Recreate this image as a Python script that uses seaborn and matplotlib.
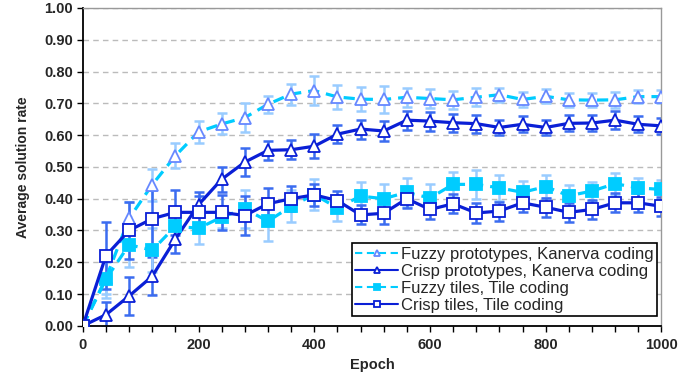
import numpy as np
import pandas as pd
import matplotlib
matplotlib.use("Agg")
import matplotlib.pyplot as plt
import seaborn as sns

epochs = list(range(0, 1001, 40))

fuzzy_proto = [0.0, 0.15, 0.338, 0.444, 0.535, 0.61, 0.635, 0.655, 0.697, 0.729, 0.740,
               0.72, 0.713, 0.712, 0.719, 0.715, 0.711, 0.719, 0.727, 0.712, 0.722,
               0.711, 0.71, 0.711, 0.721, 0.721]
fuzzy_proto_err = [0.0, 0.05, 0.05, 0.05, 0.04, 0.035, 0.033, 0.046, 0.026, 0.033, 0.045,
                   0.037, 0.037, 0.042, 0.03, 0.03, 0.028, 0.028, 0.022, 0.025, 0.022,
                   0.022, 0.022, 0.025, 0.02, 0.02]

crisp_proto = [0.0, 0.035, 0.094, 0.156, 0.273, 0.381, 0.461, 0.515, 0.552, 0.554, 0.565,
               0.603, 0.619, 0.613, 0.647, 0.644, 0.639, 0.636, 0.624, 0.634, 0.624,
               0.637, 0.638, 0.647, 0.634, 0.629]
crisp_proto_err = [0.0, 0.04, 0.06, 0.06, 0.045, 0.04, 0.04, 0.045, 0.03, 0.03, 0.037,
                   0.029, 0.03, 0.032, 0.03, 0.03, 0.028, 0.028, 0.025, 0.025, 0.025,
                   0.025, 0.025, 0.028, 0.025, 0.025]

fuzzy_tiles = [0.0, 0.147, 0.255, 0.238, 0.313, 0.307, 0.342, 0.368, 0.329, 0.376, 0.413,
               0.371, 0.408, 0.40, 0.42, 0.402, 0.445, 0.445, 0.434, 0.42, 0.438,
               0.409, 0.424, 0.447, 0.434, 0.429]
fuzzy_tiles_err = [0.0, 0.06, 0.07, 0.07, 0.05, 0.05, 0.035, 0.06, 0.062, 0.05, 0.05,
                   0.04, 0.045, 0.045, 0.045, 0.045, 0.04, 0.045, 0.04, 0.035, 0.035,
                   0.035, 0.03, 0.035, 0.03, 0.03]

crisp_tiles = [0.0, 0.221, 0.30, 0.337, 0.357, 0.357, 0.357, 0.347, 0.384, 0.40, 0.412,
               0.394, 0.349, 0.354, 0.40, 0.366, 0.384, 0.355, 0.361, 0.387, 0.373,
               0.357, 0.366, 0.387, 0.387, 0.376]
crisp_tiles_err = [0.0, 0.105, 0.09, 0.09, 0.07, 0.05, 0.055, 0.06, 0.05, 0.04, 0.035,
                   0.03, 0.03, 0.035, 0.03, 0.03, 0.03, 0.03, 0.03, 0.03, 0.03,
                   0.03, 0.03, 0.03, 0.03, 0.03]

labels = ["Fuzzy prototypes, Kanerva coding", "Crisp prototypes, Kanerva coding",
          "Fuzzy tiles, Tile coding", "Crisp tiles, Tile coding"]

sns.set_theme(style="white")
plt.rcParams['font.family'] = ['Liberation Sans', 'DejaVu Sans']

fig = plt.figure(figsize=(6.79, 3.78), dpi=100)
ax = fig.add_axes([0.122, 0.138, 0.852, 0.841])

cyan = "#00CCFF"
dark = "#0A1FD6"
light_err = "#99CCFF"
mid_err = "#3B6CF0"

series = [
    (fuzzy_proto, fuzzy_proto_err, labels[0], cyan, (0, (3.5, 2.2)), "^", "white", "#6688FF", light_err),
    (crisp_proto, crisp_proto_err, labels[1], dark, "-", "^", "white", dark, mid_err),
    (fuzzy_tiles, fuzzy_tiles_err, labels[2], cyan, (0, (3.5, 2.2)), "s", cyan, cyan, light_err),
    (crisp_tiles, crisp_tiles_err, labels[3], dark, "-", "s", "white", dark, mid_err),
]

for y, e, lab, col, ls, mk, mfc, mec, ecol in series:
    ax.errorbar(epochs, y, yerr=e, fmt="none", ecolor=ecol, elinewidth=1.8,
                capsize=3.5, capthick=1.8, zorder=2)

for i, (y, e, lab, col, ls, mk, mfc, mec, ecol) in enumerate(series):
    df = pd.DataFrame({"Epoch": epochs, "val": y})
    sns.lineplot(data=df, x="Epoch", y="val", ax=ax, color=col, linewidth=2.3,
                 marker=mk, markersize=8, markerfacecolor=mfc, markeredgecolor=mec,
                 markeredgewidth=1.3, label=lab, zorder=3 + i)
    ax.lines[-1].set_linestyle(ls)

ax.set_xlim(0, 1000)
ax.set_ylim(0, 1.0)
ax.set_xticks([0, 200, 400, 600, 800, 1000])
ax.set_xticks(epochs, minor=True)
ax.set_yticks(np.arange(0, 1.01, 0.1))
ax.set_yticklabels([f"{v:.2f}" for v in np.arange(0, 1.01, 0.1)])
ax.tick_params(axis="both", which="major", direction="out", length=4, width=1,
               color="black", labelsize=10.5, pad=3, left=True, bottom=True)
ax.tick_params(axis="x", which="major", pad=5)
ax.tick_params(axis="x", which="minor", direction="out", length=4, width=1,
               color="black", bottom=True)
for lab in ax.get_xticklabels() + ax.get_yticklabels():
    lab.set_fontweight("bold")

ax.yaxis.grid(True, linestyle=(0, (4, 3)), color="#BBBBBB", linewidth=1)
ax.xaxis.grid(False)
ax.set_axisbelow(True)

for side in ["left", "bottom"]:
    ax.spines[side].set_color("black")
    ax.spines[side].set_linewidth(1.3)
for side in ["top", "right"]:
    ax.spines[side].set_color("#999999")
    ax.spines[side].set_linewidth(1.0)

ax.set_xlabel("Epoch", fontsize=10.5, fontweight="bold")
ax.xaxis.set_label_coords(0.5, -0.1)
ax.set_ylabel("Average solution rate", fontsize=10, fontweight="bold")
ax.yaxis.set_label_coords(-0.092, 0.5)

leg = ax.legend(loc="lower right", bbox_to_anchor=(0.998, 0.02), fontsize=12,
                frameon=True, fancybox=False, edgecolor="black", framealpha=1,
                handlelength=2.6, handletextpad=0.15, borderpad=0.2, labelspacing=0.12,
                borderaxespad=0.2, markerscale=0.6)
leg.get_frame().set_linewidth(1.2)
for h in leg.get_lines():
    h.set_linewidth(1.5)

fig.savefig("out.png", dpi=100)
